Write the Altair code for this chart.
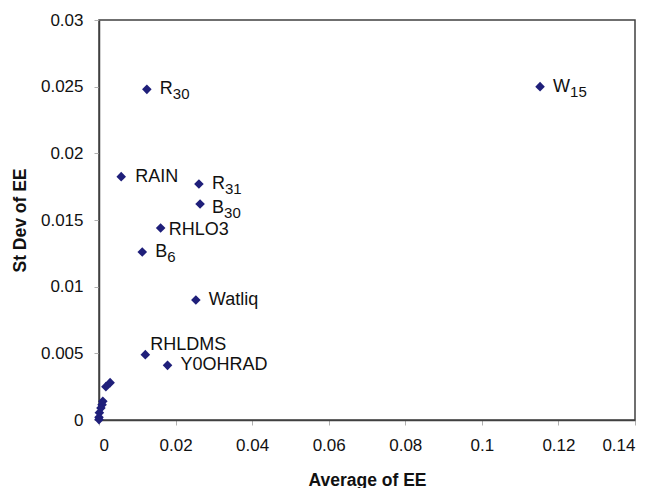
import altair as alt
import pandas as pd

# --- data ---
avg_ee = [0.1152, 0.0125, 0.0058, 0.0261, 0.0264, 0.0161, 0.0113, 0.0253, 0.0121, 0.0179,
          0.0029, 0.0018, 0.0010, 0.0008, 0.0005, 0.0001, 0.0000, 0.0000]
sd_ee = [0.0250, 0.0248, 0.01825, 0.0177, 0.0162, 0.0144, 0.0126, 0.0090, 0.0049, 0.0041,
         0.0028, 0.0025, 0.0014, 0.00115, 0.0009, 0.00055, 0.0002, 0.00003]
names = ["W", "R", "RAIN", "R", "B", "RHLO3", "B", "Watliq", "RHLDMS", "Y0OHRAD",
         "", "", "", "", "", "", "", ""]
subs = ["15", "30", "", "31", "30", "", "6", "", "", "",
        "", "", "", "", "", "", "", ""]

x_ticks = [0, 0.02, 0.04, 0.06, 0.08, 0.1, 0.12, 0.14]
y_ticks = [0, 0.005, 0.01, 0.015, 0.02, 0.025, 0.03]

# label placement (pixels) - styling, kept apart from data
label_dx = [13, 13, 14, 13, 12, 8, 13, 13, 5, 13]
label_dy = [0, 0, 0, 0, 4, 2, 0, 0, -10, 0]
base_w = {"W": 17, "R": 13, "B": 12}

df = pd.DataFrame({"id": list(range(len(avg_ee))), "avg": avg_ee, "sd": sd_ee,
                   "name": names, "sub": subs})

FONT = "Liberation Sans"
NAVY = "#1f1f7a"

x = alt.X("avg:Q", title="Average of EE",
          scale=alt.Scale(domain=[0, 0.14], nice=False, zero=False),
          axis=alt.Axis(values=x_ticks, format="~g", grid=False))
y = alt.Y("sd:Q", title="St Dev of EE",
          scale=alt.Scale(domain=[0, 0.03], nice=False, zero=False),
          axis=alt.Axis(values=y_ticks, format="~g", grid=False))

base = alt.Chart(df)
points = base.mark_point(shape="diamond", filled=True, size=92, color=NAVY,
                         opacity=1).encode(x=x, y=y)

layers = [points]
for i, nm in enumerate(names):
    if not nm:
        continue
    layers.append(
        base.transform_filter(alt.datum.id == i).mark_text(
            align="left", baseline="middle", dx=label_dx[i], dy=label_dy[i],
            font=FONT, fontSize=18, color="#111111"
        ).encode(x=x, y=y, text="name:N")
    )
    if subs[i]:
        layers.append(
            base.transform_filter(alt.datum.id == i).mark_text(
                align="left", baseline="middle",
                dx=label_dx[i] + base_w.get(nm, 12), dy=label_dy[i] + 5,
                font=FONT, fontSize=15, color="#111111"
            ).encode(x=x, y=y, text="sub:N")
        )

chart = alt.layer(*layers).properties(
    width=536, height=400,
    autosize=alt.AutoSizeParams(type="none"),
    padding={"left": 99, "top": 20, "right": 19, "bottom": 68},
).configure_view(
    stroke="#404040", strokeWidth=1.5
).configure_axis(
    domainColor="#404040", domainWidth=1.5,
    tickColor="#b0b0b0", tickSize=5, tickWidth=1,
    labelFont=FONT, labelFontSize=17, labelColor="#111111",
    titleFont=FONT, titleFontSize=17.5, titleFontWeight="bold", titleColor="#111111",
).configure_axisX(
    labelPadding=12, titleY=60, titleBaseline="middle", titleX=268,
).configure_axisY(
    labelPadding=11, titleX=-79, titleY=200, titleBaseline="middle",
)

chart.save("out.html", embed_options={"renderer": "svg", "actions": False})
